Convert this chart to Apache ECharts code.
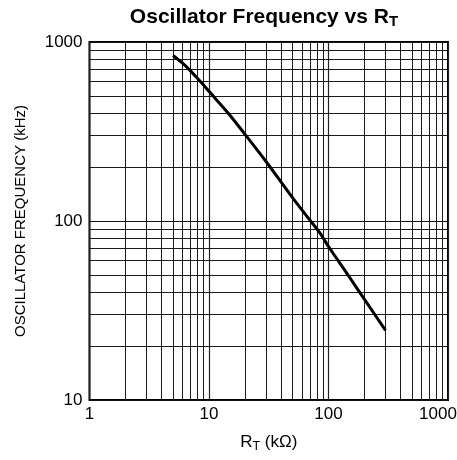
<!DOCTYPE html>
<html>
<head>
<meta charset="utf-8">
<script src="https://cdn.jsdelivr.net/npm/echarts@6/dist/echarts.min.js"></script>
<style>
html,body{margin:0;padding:0;background:#fff;}
#c{width:457px;height:460px;}
</style>
</head>
<body>
<div id="c"></div>
<script>
// Data
var rt = [5, 6.3, 8.7, 10, 14.5, 20, 30, 48, 70, 85, 100, 150, 200, 300];
var freq = [840, 740, 590, 530, 400, 305, 215, 140, 101, 85.5, 72, 48.5, 36.5, 24.5];

// Axis tick labels / grid values
var xMajor = [1, 10, 100, 1000];
var yMajor = [10, 100, 1000];
var xMinor = [2,3,4,5,6,7,8,9, 20,30,40,50,60,70,80,90, 200,300,400,500,600,700,800,900];
var yMinor = [20,30,40,50,60,70,80,90, 200,300,400,500,600,700,800,900];

var FONT = 'Liberation Sans, Arial, Helvetica, sans-serif';

var chart = echarts.init(document.getElementById('c'), null, {renderer: 'canvas'});

var minorLines = [];
xMinor.forEach(function (v) { minorLines.push({xAxis: v}); });
yMinor.forEach(function (v) { minorLines.push({yAxis: v}); });

chart.setOption({
  animation: false,
  backgroundColor: '#fff',
  title: {
    text: 'Oscillator Frequency vs R{sub|T}',
    left: 259,
    textAlign: 'center',
    top: 0,
    textStyle: {
      fontFamily: FONT,
      fontSize: 21,
      fontWeight: 'bold',
      color: '#000',
      rich: {
        sub: {fontFamily: FONT, fontSize: 15, fontWeight: 'bold', color: '#000', padding: [9, 0, 0, 0], verticalAlign: 'bottom'}
      }
    }
  },
  grid: {
    left: 89.5, right: 9, top: 42, bottom: 60,
    outerBoundsMode: 'none',
    containLabel: false,
    show: true, borderColor: '#000', borderWidth: 2, backgroundColor: 'transparent'
  },
  xAxis: {
    type: 'log', logBase: 10, min: 1, max: 1000,
    name: 'R{sub|T} (kΩ)', nameLocation: 'middle', nameGap: 32,
    nameTextStyle: {
      fontFamily: FONT, fontSize: 17, color: '#000',
      rich: {sub: {fontFamily: FONT, fontSize: 12.5, color: '#000', padding: [8, 0, 0, 0], verticalAlign: 'bottom'}}
    },
    axisLine: {show: false},
    axisTick: {show: false},
    axisLabel: {fontFamily: FONT, fontSize: 17, color: '#000', margin: 6,
      hideOverlap: false, showMaxLabel: true, showMinLabel: true,
      formatter: function (v) {
        if (v === 1000) { return '{r|1000}'; }
        return xMajor.indexOf(v) >= 0 ? String(v) : '';
      },
      rich: {r: {fontFamily: FONT, fontSize: 17, color: '#000', padding: [0, 20, 0, 0]}}
    },
    splitLine: {show: true, lineStyle: {color: '#222', width: 1.2}},
    minorTick: {show: false},
    minorSplitLine: {show: false}
  },
  yAxis: {
    type: 'log', logBase: 10, min: 10, max: 1000,
    name: 'OSCILLATOR FREQUENCY (kHz)', nameLocation: 'middle', nameGap: 61,
    nameTextStyle: {fontFamily: FONT, fontSize: 15, color: '#000'},
    axisLine: {show: false},
    axisTick: {show: false},
    axisLabel: {fontFamily: FONT, fontSize: 17, color: '#000', margin: 7,
      formatter: function (v) { return yMajor.indexOf(v) >= 0 ? String(v) : ''; }},
    splitLine: {show: true, lineStyle: {color: '#111', width: 1}}
  },
  series: [
    {
      type: 'line',
      data: [],
      z: 1,
      silent: true,
      markLine: {
        silent: true,
        symbol: 'none',
        animation: false,
        label: {show: false},
        lineStyle: {color: '#1a1a1a', width: 1, type: 'solid'},
        emphasis: {disabled: true},
        data: minorLines
      }
    },
    {
      type: 'line',
      z: 5,
      data: rt.map(function (x, i) { return [x, freq[i]]; }),
      showSymbol: false,
      symbol: 'none',
      smooth: 0.3,
      lineStyle: {color: '#000', width: 3}
    }
  ]
});
</script>
</body>
</html>
